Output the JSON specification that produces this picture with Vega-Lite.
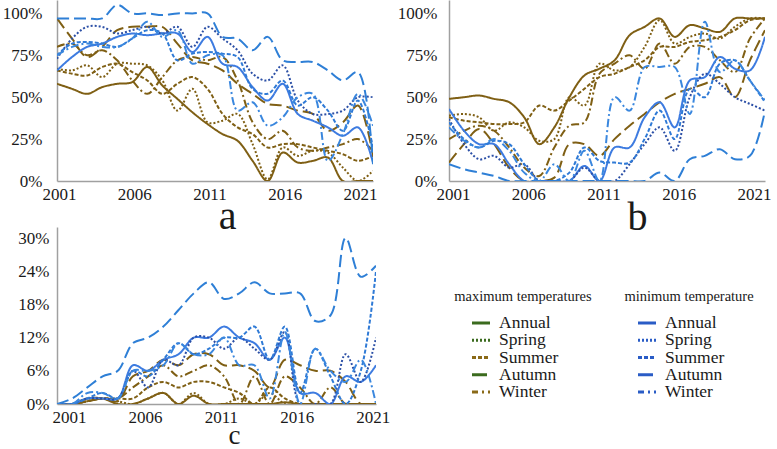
{
"$schema":"https://vega.github.io/schema/vega-lite/v6.json",
"padding":{"left":2,"top":0,"right":0,"bottom":0},
"config":{"font":"Liberation Serif, Times New Roman, serif","view":{"stroke":null},"axis":{"labelFont":"Liberation Serif, Times New Roman, serif","labelFontSize":17,"labelColor":"#1a1a1a","ticks":false,"grid":false,"domainColor":"#a0a0a0","domainWidth":1.5,"titleFont":"Liberation Serif, Times New Roman, serif","titleFontWeight":"normal","titleColor":"#1a1a1a"},"text":{"font":"Liberation Serif, Times New Roman, serif"}},
"datasets":{
"a":[
{"s":"MA","x":2001,"v":58},{"s":"MA","x":2002,"v":55},{"s":"MA","x":2003,"v":52},{"s":"MA","x":2004,"v":56},{"s":"MA","x":2005,"v":58},{"s":"MA","x":2006,"v":59},{"s":"MA","x":2007,"v":68},{"s":"MA","x":2008,"v":57},{"s":"MA","x":2009,"v":49},{"s":"MA","x":2010,"v":41},{"s":"MA","x":2011,"v":34},{"s":"MA","x":2012,"v":28},{"s":"MA","x":2013,"v":24},{"s":"MA","x":2014,"v":12},{"s":"MA","x":2015,"v":0},{"s":"MA","x":2016,"v":17},{"s":"MA","x":2017,"v":11},{"s":"MA","x":2018,"v":12},{"s":"MA","x":2019,"v":14},{"s":"MA","x":2020,"v":0},{"s":"MA","x":2021,"v":0},{"s":"MA","x":2022,"v":0},
{"s":"MS","x":2001,"v":67},{"s":"MS","x":2002,"v":66},{"s":"MS","x":2003,"v":69},{"s":"MS","x":2004,"v":62},{"s":"MS","x":2005,"v":70},{"s":"MS","x":2006,"v":70},{"s":"MS","x":2007,"v":69},{"s":"MS","x":2008,"v":60},{"s":"MS","x":2009,"v":42},{"s":"MS","x":2010,"v":55},{"s":"MS","x":2011,"v":35},{"s":"MS","x":2012,"v":36},{"s":"MS","x":2013,"v":40},{"s":"MS","x":2014,"v":22},{"s":"MS","x":2015,"v":1},{"s":"MS","x":2016,"v":20},{"s":"MS","x":2017,"v":15},{"s":"MS","x":2018,"v":18},{"s":"MS","x":2019,"v":17},{"s":"MS","x":2020,"v":8},{"s":"MS","x":2021,"v":0},{"s":"MS","x":2022,"v":6},
{"s":"MU","x":2001,"v":66},{"s":"MU","x":2002,"v":64},{"s":"MU","x":2003,"v":63},{"s":"MU","x":2004,"v":68},{"s":"MU","x":2005,"v":70},{"s":"MU","x":2006,"v":65},{"s":"MU","x":2007,"v":60},{"s":"MU","x":2008,"v":52},{"s":"MU","x":2009,"v":58},{"s":"MU","x":2010,"v":62},{"s":"MU","x":2011,"v":55},{"s":"MU","x":2012,"v":40},{"s":"MU","x":2013,"v":32},{"s":"MU","x":2014,"v":28},{"s":"MU","x":2015,"v":20},{"s":"MU","x":2016,"v":22},{"s":"MU","x":2017,"v":22},{"s":"MU","x":2018,"v":20},{"s":"MU","x":2019,"v":18},{"s":"MU","x":2020,"v":16},{"s":"MU","x":2021,"v":12},{"s":"MU","x":2022,"v":15},
{"s":"MT","x":2001,"v":97},{"s":"MT","x":2002,"v":85},{"s":"MT","x":2003,"v":74},{"s":"MT","x":2004,"v":80},{"s":"MT","x":2005,"v":90},{"s":"MT","x":2006,"v":92},{"s":"MT","x":2007,"v":92},{"s":"MT","x":2008,"v":92},{"s":"MT","x":2009,"v":82},{"s":"MT","x":2010,"v":72},{"s":"MT","x":2011,"v":70},{"s":"MT","x":2012,"v":66},{"s":"MT","x":2013,"v":58},{"s":"MT","x":2014,"v":52},{"s":"MT","x":2015,"v":46},{"s":"MT","x":2016,"v":45},{"s":"MT","x":2017,"v":42},{"s":"MT","x":2018,"v":40},{"s":"MT","x":2019,"v":30},{"s":"MT","x":2020,"v":35},{"s":"MT","x":2021,"v":45},{"s":"MT","x":2022,"v":15},
{"s":"MW","x":2001,"v":80},{"s":"MW","x":2002,"v":82},{"s":"MW","x":2003,"v":75},{"s":"MW","x":2004,"v":78},{"s":"MW","x":2005,"v":72},{"s":"MW","x":2006,"v":60},{"s":"MW","x":2007,"v":52},{"s":"MW","x":2008,"v":62},{"s":"MW","x":2009,"v":72},{"s":"MW","x":2010,"v":74},{"s":"MW","x":2011,"v":72},{"s":"MW","x":2012,"v":74},{"s":"MW","x":2013,"v":60},{"s":"MW","x":2014,"v":35},{"s":"MW","x":2015,"v":25},{"s":"MW","x":2016,"v":30},{"s":"MW","x":2017,"v":20},{"s":"MW","x":2018,"v":18},{"s":"MW","x":2019,"v":20},{"s":"MW","x":2020,"v":22},{"s":"MW","x":2021,"v":25},{"s":"MW","x":2022,"v":18},
{"s":"nA","x":2001,"v":66},{"s":"nA","x":2002,"v":74},{"s":"nA","x":2003,"v":80},{"s":"nA","x":2004,"v":82},{"s":"nA","x":2005,"v":86},{"s":"nA","x":2006,"v":88},{"s":"nA","x":2007,"v":87},{"s":"nA","x":2008,"v":88},{"s":"nA","x":2009,"v":88},{"s":"nA","x":2010,"v":77},{"s":"nA","x":2011,"v":86},{"s":"nA","x":2012,"v":70},{"s":"nA","x":2013,"v":68},{"s":"nA","x":2014,"v":56},{"s":"nA","x":2015,"v":48},{"s":"nA","x":2016,"v":58},{"s":"nA","x":2017,"v":40},{"s":"nA","x":2018,"v":36},{"s":"nA","x":2019,"v":32},{"s":"nA","x":2020,"v":27},{"s":"nA","x":2021,"v":32},{"s":"nA","x":2022,"v":11},
{"s":"nS","x":2001,"v":73},{"s":"nS","x":2002,"v":85},{"s":"nS","x":2003,"v":92},{"s":"nS","x":2004,"v":92},{"s":"nS","x":2005,"v":88},{"s":"nS","x":2006,"v":90},{"s":"nS","x":2007,"v":92},{"s":"nS","x":2008,"v":88},{"s":"nS","x":2009,"v":92},{"s":"nS","x":2010,"v":80},{"s":"nS","x":2011,"v":92},{"s":"nS","x":2012,"v":85},{"s":"nS","x":2013,"v":78},{"s":"nS","x":2014,"v":64},{"s":"nS","x":2015,"v":60},{"s":"nS","x":2016,"v":69},{"s":"nS","x":2017,"v":48},{"s":"nS","x":2018,"v":40},{"s":"nS","x":2019,"v":40},{"s":"nS","x":2020,"v":42},{"s":"nS","x":2021,"v":50},{"s":"nS","x":2022,"v":50},
{"s":"nU","x":2001,"v":75},{"s":"nU","x":2002,"v":82},{"s":"nU","x":2003,"v":83},{"s":"nU","x":2004,"v":82},{"s":"nU","x":2005,"v":80},{"s":"nU","x":2006,"v":85},{"s":"nU","x":2007,"v":90},{"s":"nU","x":2008,"v":88},{"s":"nU","x":2009,"v":72},{"s":"nU","x":2010,"v":76},{"s":"nU","x":2011,"v":77},{"s":"nU","x":2012,"v":76},{"s":"nU","x":2013,"v":74},{"s":"nU","x":2014,"v":55},{"s":"nU","x":2015,"v":52},{"s":"nU","x":2016,"v":60},{"s":"nU","x":2017,"v":45},{"s":"nU","x":2018,"v":50},{"s":"nU","x":2019,"v":42},{"s":"nU","x":2020,"v":30},{"s":"nU","x":2021,"v":48},{"s":"nU","x":2022,"v":20},
{"s":"nT","x":2001,"v":97},{"s":"nT","x":2002,"v":97},{"s":"nT","x":2003,"v":97},{"s":"nT","x":2004,"v":97},{"s":"nT","x":2005,"v":105},{"s":"nT","x":2006,"v":100},{"s":"nT","x":2007,"v":100},{"s":"nT","x":2008,"v":99},{"s":"nT","x":2009,"v":100},{"s":"nT","x":2010,"v":100},{"s":"nT","x":2011,"v":100},{"s":"nT","x":2012,"v":86},{"s":"nT","x":2013,"v":85},{"s":"nT","x":2014,"v":78},{"s":"nT","x":2015,"v":86},{"s":"nT","x":2016,"v":72},{"s":"nT","x":2017,"v":71},{"s":"nT","x":2018,"v":71},{"s":"nT","x":2019,"v":66},{"s":"nT","x":2020,"v":60},{"s":"nT","x":2021,"v":65},{"s":"nT","x":2022,"v":10},
{"s":"nW","x":2001,"v":75},{"s":"nW","x":2002,"v":80},{"s":"nW","x":2003,"v":82},{"s":"nW","x":2004,"v":80},{"s":"nW","x":2005,"v":80},{"s":"nW","x":2006,"v":85},{"s":"nW","x":2007,"v":95},{"s":"nW","x":2008,"v":86},{"s":"nW","x":2009,"v":90},{"s":"nW","x":2010,"v":70},{"s":"nW","x":2011,"v":75},{"s":"nW","x":2012,"v":75},{"s":"nW","x":2013,"v":42},{"s":"nW","x":2014,"v":47},{"s":"nW","x":2015,"v":33},{"s":"nW","x":2016,"v":38},{"s":"nW","x":2017,"v":50},{"s":"nW","x":2018,"v":52},{"s":"nW","x":2019,"v":12},{"s":"nW","x":2020,"v":28},{"s":"nW","x":2021,"v":52},{"s":"nW","x":2022,"v":33}
],
"b":[
{"s":"MA","x":2001,"v":49},{"s":"MA","x":2002,"v":50},{"s":"MA","x":2003,"v":51},{"s":"MA","x":2004,"v":49},{"s":"MA","x":2005,"v":47},{"s":"MA","x":2006,"v":38},{"s":"MA","x":2007,"v":22},{"s":"MA","x":2008,"v":32},{"s":"MA","x":2009,"v":50},{"s":"MA","x":2010,"v":63},{"s":"MA","x":2011,"v":67},{"s":"MA","x":2012,"v":72},{"s":"MA","x":2013,"v":87},{"s":"MA","x":2014,"v":92},{"s":"MA","x":2015,"v":97},{"s":"MA","x":2016,"v":86},{"s":"MA","x":2017,"v":93},{"s":"MA","x":2018,"v":91},{"s":"MA","x":2019,"v":89},{"s":"MA","x":2020,"v":97},{"s":"MA","x":2021,"v":97},{"s":"MA","x":2022,"v":97},
{"s":"MS","x":2001,"v":39},{"s":"MS","x":2002,"v":40},{"s":"MS","x":2003,"v":38},{"s":"MS","x":2004,"v":30},{"s":"MS","x":2005,"v":35},{"s":"MS","x":2006,"v":32},{"s":"MS","x":2007,"v":24},{"s":"MS","x":2008,"v":25},{"s":"MS","x":2009,"v":50},{"s":"MS","x":2010,"v":45},{"s":"MS","x":2011,"v":70},{"s":"MS","x":2012,"v":66},{"s":"MS","x":2013,"v":68},{"s":"MS","x":2014,"v":80},{"s":"MS","x":2015,"v":96},{"s":"MS","x":2016,"v":82},{"s":"MS","x":2017,"v":86},{"s":"MS","x":2018,"v":88},{"s":"MS","x":2019,"v":85},{"s":"MS","x":2020,"v":92},{"s":"MS","x":2021,"v":97},{"s":"MS","x":2022,"v":97},
{"s":"MU","x":2001,"v":38},{"s":"MU","x":2002,"v":36},{"s":"MU","x":2003,"v":35},{"s":"MU","x":2004,"v":34},{"s":"MU","x":2005,"v":34},{"s":"MU","x":2006,"v":35},{"s":"MU","x":2007,"v":45},{"s":"MU","x":2008,"v":42},{"s":"MU","x":2009,"v":48},{"s":"MU","x":2010,"v":55},{"s":"MU","x":2011,"v":62},{"s":"MU","x":2012,"v":64},{"s":"MU","x":2013,"v":68},{"s":"MU","x":2014,"v":72},{"s":"MU","x":2015,"v":80},{"s":"MU","x":2016,"v":80},{"s":"MU","x":2017,"v":83},{"s":"MU","x":2018,"v":84},{"s":"MU","x":2019,"v":86},{"s":"MU","x":2020,"v":90},{"s":"MU","x":2021,"v":96},{"s":"MU","x":2022,"v":97},
{"s":"MT","x":2001,"v":11},{"s":"MT","x":2002,"v":22},{"s":"MT","x":2003,"v":31},{"s":"MT","x":2004,"v":22},{"s":"MT","x":2005,"v":8},{"s":"MT","x":2006,"v":0},{"s":"MT","x":2007,"v":0},{"s":"MT","x":2008,"v":2},{"s":"MT","x":2009,"v":22},{"s":"MT","x":2010,"v":22},{"s":"MT","x":2011,"v":15},{"s":"MT","x":2012,"v":25},{"s":"MT","x":2013,"v":33},{"s":"MT","x":2014,"v":40},{"s":"MT","x":2015,"v":47},{"s":"MT","x":2016,"v":52},{"s":"MT","x":2017,"v":55},{"s":"MT","x":2018,"v":58},{"s":"MT","x":2019,"v":62},{"s":"MT","x":2020,"v":50},{"s":"MT","x":2021,"v":72},{"s":"MT","x":2022,"v":90},
{"s":"MW","x":2001,"v":25},{"s":"MW","x":2002,"v":30},{"s":"MW","x":2003,"v":33},{"s":"MW","x":2004,"v":30},{"s":"MW","x":2005,"v":20},{"s":"MW","x":2006,"v":8},{"s":"MW","x":2007,"v":3},{"s":"MW","x":2008,"v":20},{"s":"MW","x":2009,"v":33},{"s":"MW","x":2010,"v":35},{"s":"MW","x":2011,"v":64},{"s":"MW","x":2012,"v":70},{"s":"MW","x":2013,"v":75},{"s":"MW","x":2014,"v":67},{"s":"MW","x":2015,"v":82},{"s":"MW","x":2016,"v":70},{"s":"MW","x":2017,"v":80},{"s":"MW","x":2018,"v":80},{"s":"MW","x":2019,"v":72},{"s":"MW","x":2020,"v":65},{"s":"MW","x":2021,"v":85},{"s":"MW","x":2022,"v":97},
{"s":"nA","x":2001,"v":43},{"s":"nA","x":2002,"v":30},{"s":"nA","x":2003,"v":22},{"s":"nA","x":2004,"v":22},{"s":"nA","x":2005,"v":10},{"s":"nA","x":2006,"v":0},{"s":"nA","x":2007,"v":0},{"s":"nA","x":2008,"v":0},{"s":"nA","x":2009,"v":0},{"s":"nA","x":2010,"v":9},{"s":"nA","x":2011,"v":0},{"s":"nA","x":2012,"v":20},{"s":"nA","x":2013,"v":20},{"s":"nA","x":2014,"v":38},{"s":"nA","x":2015,"v":47},{"s":"nA","x":2016,"v":32},{"s":"nA","x":2017,"v":60},{"s":"nA","x":2018,"v":62},{"s":"nA","x":2019,"v":74},{"s":"nA","x":2020,"v":67},{"s":"nA","x":2021,"v":66},{"s":"nA","x":2022,"v":86},
{"s":"nS","x":2001,"v":37},{"s":"nS","x":2002,"v":22},{"s":"nS","x":2003,"v":13},{"s":"nS","x":2004,"v":15},{"s":"nS","x":2005,"v":8},{"s":"nS","x":2006,"v":10},{"s":"nS","x":2007,"v":0},{"s":"nS","x":2008,"v":0},{"s":"nS","x":2009,"v":0},{"s":"nS","x":2010,"v":8},{"s":"nS","x":2011,"v":0},{"s":"nS","x":2012,"v":0},{"s":"nS","x":2013,"v":10},{"s":"nS","x":2014,"v":22},{"s":"nS","x":2015,"v":32},{"s":"nS","x":2016,"v":18},{"s":"nS","x":2017,"v":50},{"s":"nS","x":2018,"v":64},{"s":"nS","x":2019,"v":58},{"s":"nS","x":2020,"v":50},{"s":"nS","x":2021,"v":46},{"s":"nS","x":2022,"v":42},
{"s":"nU","x":2001,"v":35},{"s":"nU","x":2002,"v":25},{"s":"nU","x":2003,"v":20},{"s":"nU","x":2004,"v":24},{"s":"nU","x":2005,"v":22},{"s":"nU","x":2006,"v":10},{"s":"nU","x":2007,"v":0},{"s":"nU","x":2008,"v":0},{"s":"nU","x":2009,"v":5},{"s":"nU","x":2010,"v":20},{"s":"nU","x":2011,"v":12},{"s":"nU","x":2012,"v":11},{"s":"nU","x":2013,"v":11},{"s":"nU","x":2014,"v":25},{"s":"nU","x":2015,"v":42},{"s":"nU","x":2016,"v":25},{"s":"nU","x":2017,"v":55},{"s":"nU","x":2018,"v":50},{"s":"nU","x":2019,"v":70},{"s":"nU","x":2020,"v":72},{"s":"nU","x":2021,"v":60},{"s":"nU","x":2022,"v":47},
{"s":"nT","x":2001,"v":10},{"s":"nT","x":2002,"v":7},{"s":"nT","x":2003,"v":5},{"s":"nT","x":2004,"v":3},{"s":"nT","x":2005,"v":0},{"s":"nT","x":2006,"v":0},{"s":"nT","x":2007,"v":0},{"s":"nT","x":2008,"v":0},{"s":"nT","x":2009,"v":0},{"s":"nT","x":2010,"v":0},{"s":"nT","x":2011,"v":0},{"s":"nT","x":2012,"v":0},{"s":"nT","x":2013,"v":0},{"s":"nT","x":2014,"v":0},{"s":"nT","x":2015,"v":5},{"s":"nT","x":2016,"v":0},{"s":"nT","x":2017,"v":13},{"s":"nT","x":2018,"v":15},{"s":"nT","x":2019,"v":19},{"s":"nT","x":2020,"v":13},{"s":"nT","x":2021,"v":15},{"s":"nT","x":2022,"v":42},
{"s":"nW","x":2001,"v":32},{"s":"nW","x":2002,"v":24},{"s":"nW","x":2003,"v":20},{"s":"nW","x":2004,"v":25},{"s":"nW","x":2005,"v":18},{"s":"nW","x":2006,"v":5},{"s":"nW","x":2007,"v":0},{"s":"nW","x":2008,"v":10},{"s":"nW","x":2009,"v":0},{"s":"nW","x":2010,"v":18},{"s":"nW","x":2011,"v":0},{"s":"nW","x":2012,"v":50},{"s":"nW","x":2013,"v":42},{"s":"nW","x":2014,"v":68},{"s":"nW","x":2015,"v":68},{"s":"nW","x":2016,"v":68},{"s":"nW","x":2017,"v":40},{"s":"nW","x":2018,"v":95},{"s":"nW","x":2019,"v":65},{"s":"nW","x":2020,"v":72},{"s":"nW","x":2021,"v":60},{"s":"nW","x":2022,"v":48}
],
"c":[
{"s":"MA","x":2001,"v":0},{"s":"MA","x":2002,"v":0},{"s":"MA","x":2003,"v":1},{"s":"MA","x":2004,"v":1},{"s":"MA","x":2005,"v":0},{"s":"MA","x":2006,"v":0},{"s":"MA","x":2007,"v":1},{"s":"MA","x":2008,"v":2},{"s":"MA","x":2009,"v":0},{"s":"MA","x":2010,"v":1.5},{"s":"MA","x":2011,"v":0},{"s":"MA","x":2012,"v":0},{"s":"MA","x":2013,"v":0},{"s":"MA","x":2014,"v":0},{"s":"MA","x":2015,"v":0},{"s":"MA","x":2016,"v":0.3},{"s":"MA","x":2017,"v":0},{"s":"MA","x":2018,"v":0},{"s":"MA","x":2019,"v":0},{"s":"MA","x":2020,"v":0},{"s":"MA","x":2021,"v":0},{"s":"MA","x":2022,"v":0},
{"s":"MS","x":2001,"v":0},{"s":"MS","x":2002,"v":0},{"s":"MS","x":2003,"v":0.5},{"s":"MS","x":2004,"v":1},{"s":"MS","x":2005,"v":0.5},{"s":"MS","x":2006,"v":0},{"s":"MS","x":2007,"v":1},{"s":"MS","x":2008,"v":2},{"s":"MS","x":2009,"v":0},{"s":"MS","x":2010,"v":2},{"s":"MS","x":2011,"v":0},{"s":"MS","x":2012,"v":0},{"s":"MS","x":2013,"v":1},{"s":"MS","x":2014,"v":0},{"s":"MS","x":2015,"v":2},{"s":"MS","x":2016,"v":0},{"s":"MS","x":2017,"v":0},{"s":"MS","x":2018,"v":0},{"s":"MS","x":2019,"v":0},{"s":"MS","x":2020,"v":0},{"s":"MS","x":2021,"v":0},{"s":"MS","x":2022,"v":0},
{"s":"MU","x":2001,"v":0},{"s":"MU","x":2002,"v":0},{"s":"MU","x":2003,"v":0.5},{"s":"MU","x":2004,"v":1},{"s":"MU","x":2005,"v":1},{"s":"MU","x":2006,"v":1},{"s":"MU","x":2007,"v":3},{"s":"MU","x":2008,"v":4},{"s":"MU","x":2009,"v":3},{"s":"MU","x":2010,"v":4},{"s":"MU","x":2011,"v":4},{"s":"MU","x":2012,"v":3},{"s":"MU","x":2013,"v":2},{"s":"MU","x":2014,"v":0},{"s":"MU","x":2015,"v":3},{"s":"MU","x":2016,"v":1},{"s":"MU","x":2017,"v":0},{"s":"MU","x":2018,"v":0},{"s":"MU","x":2019,"v":0},{"s":"MU","x":2020,"v":0},{"s":"MU","x":2021,"v":0},{"s":"MU","x":2022,"v":0},
{"s":"MT","x":2001,"v":0},{"s":"MT","x":2002,"v":0},{"s":"MT","x":2003,"v":0.5},{"s":"MT","x":2004,"v":1},{"s":"MT","x":2005,"v":0.5},{"s":"MT","x":2006,"v":5},{"s":"MT","x":2007,"v":6},{"s":"MT","x":2008,"v":8},{"s":"MT","x":2009,"v":7},{"s":"MT","x":2010,"v":9},{"s":"MT","x":2011,"v":9},{"s":"MT","x":2012,"v":7},{"s":"MT","x":2013,"v":7},{"s":"MT","x":2014,"v":6},{"s":"MT","x":2015,"v":3},{"s":"MT","x":2016,"v":8},{"s":"MT","x":2017,"v":7},{"s":"MT","x":2018,"v":6},{"s":"MT","x":2019,"v":6},{"s":"MT","x":2020,"v":4},{"s":"MT","x":2021,"v":0},{"s":"MT","x":2022,"v":0},
{"s":"MW","x":2001,"v":0},{"s":"MW","x":2002,"v":0},{"s":"MW","x":2003,"v":0.5},{"s":"MW","x":2004,"v":1},{"s":"MW","x":2005,"v":1},{"s":"MW","x":2006,"v":3},{"s":"MW","x":2007,"v":5},{"s":"MW","x":2008,"v":7},{"s":"MW","x":2009,"v":5},{"s":"MW","x":2010,"v":6},{"s":"MW","x":2011,"v":7},{"s":"MW","x":2012,"v":5},{"s":"MW","x":2013,"v":0},{"s":"MW","x":2014,"v":5},{"s":"MW","x":2015,"v":0},{"s":"MW","x":2016,"v":5},{"s":"MW","x":2017,"v":3},{"s":"MW","x":2018,"v":0},{"s":"MW","x":2019,"v":3},{"s":"MW","x":2020,"v":0},{"s":"MW","x":2021,"v":0},{"s":"MW","x":2022,"v":0},
{"s":"nA","x":2001,"v":0},{"s":"nA","x":2002,"v":0},{"s":"nA","x":2003,"v":1},{"s":"nA","x":2004,"v":1},{"s":"nA","x":2005,"v":1},{"s":"nA","x":2006,"v":7},{"s":"nA","x":2007,"v":6},{"s":"nA","x":2008,"v":8},{"s":"nA","x":2009,"v":9},{"s":"nA","x":2010,"v":12},{"s":"nA","x":2011,"v":12},{"s":"nA","x":2012,"v":14},{"s":"nA","x":2013,"v":12},{"s":"nA","x":2014,"v":11},{"s":"nA","x":2015,"v":8},{"s":"nA","x":2016,"v":12},{"s":"nA","x":2017,"v":2},{"s":"nA","x":2018,"v":2},{"s":"nA","x":2019,"v":0},{"s":"nA","x":2020,"v":5},{"s":"nA","x":2021,"v":4},{"s":"nA","x":2022,"v":7},
{"s":"nS","x":2001,"v":0},{"s":"nS","x":2002,"v":0},{"s":"nS","x":2003,"v":1},{"s":"nS","x":2004,"v":1},{"s":"nS","x":2005,"v":1},{"s":"nS","x":2006,"v":6},{"s":"nS","x":2007,"v":3},{"s":"nS","x":2008,"v":8},{"s":"nS","x":2009,"v":7},{"s":"nS","x":2010,"v":12},{"s":"nS","x":2011,"v":12},{"s":"nS","x":2012,"v":10},{"s":"nS","x":2013,"v":12},{"s":"nS","x":2014,"v":10},{"s":"nS","x":2015,"v":8},{"s":"nS","x":2016,"v":13},{"s":"nS","x":2017,"v":0},{"s":"nS","x":2018,"v":0},{"s":"nS","x":2019,"v":0},{"s":"nS","x":2020,"v":9},{"s":"nS","x":2021,"v":4},{"s":"nS","x":2022,"v":12},
{"s":"nU","x":2001,"v":0},{"s":"nU","x":2002,"v":0},{"s":"nU","x":2003,"v":1},{"s":"nU","x":2004,"v":2},{"s":"nU","x":2005,"v":1},{"s":"nU","x":2006,"v":6},{"s":"nU","x":2007,"v":5},{"s":"nU","x":2008,"v":8},{"s":"nU","x":2009,"v":11},{"s":"nU","x":2010,"v":9},{"s":"nU","x":2011,"v":10},{"s":"nU","x":2012,"v":12},{"s":"nU","x":2013,"v":12},{"s":"nU","x":2014,"v":14},{"s":"nU","x":2015,"v":8},{"s":"nU","x":2016,"v":14},{"s":"nU","x":2017,"v":2},{"s":"nU","x":2018,"v":10},{"s":"nU","x":2019,"v":5},{"s":"nU","x":2020,"v":0},{"s":"nU","x":2021,"v":6},{"s":"nU","x":2022,"v":24},
{"s":"nT","x":2001,"v":0},{"s":"nT","x":2002,"v":1},{"s":"nT","x":2003,"v":3},{"s":"nT","x":2004,"v":5},{"s":"nT","x":2005,"v":6},{"s":"nT","x":2006,"v":11},{"s":"nT","x":2007,"v":12},{"s":"nT","x":2008,"v":14},{"s":"nT","x":2009,"v":17},{"s":"nT","x":2010,"v":20},{"s":"nT","x":2011,"v":22},{"s":"nT","x":2012,"v":19},{"s":"nT","x":2013,"v":20},{"s":"nT","x":2014,"v":22},{"s":"nT","x":2015,"v":20},{"s":"nT","x":2016,"v":20},{"s":"nT","x":2017,"v":20},{"s":"nT","x":2018,"v":15},{"s":"nT","x":2019,"v":16},{"s":"nT","x":2020,"v":30},{"s":"nT","x":2021,"v":23},{"s":"nT","x":2022,"v":25},
{"s":"nW","x":2001,"v":0},{"s":"nW","x":2002,"v":0},{"s":"nW","x":2003,"v":2},{"s":"nW","x":2004,"v":2},{"s":"nW","x":2005,"v":1},{"s":"nW","x":2006,"v":6},{"s":"nW","x":2007,"v":6},{"s":"nW","x":2008,"v":7},{"s":"nW","x":2009,"v":11},{"s":"nW","x":2010,"v":9},{"s":"nW","x":2011,"v":9},{"s":"nW","x":2012,"v":12},{"s":"nW","x":2013,"v":7},{"s":"nW","x":2014,"v":7},{"s":"nW","x":2015,"v":1},{"s":"nW","x":2016,"v":13},{"s":"nW","x":2017,"v":0},{"s":"nW","x":2018,"v":10},{"s":"nW","x":2019,"v":6},{"s":"nW","x":2020,"v":4},{"s":"nW","x":2021,"v":8},{"s":"nW","x":2022,"v":0}
],
"leg":[
{"s":"MA","g":"max","k":1,"t":"Annual"},{"s":"MS","g":"max","k":2,"t":"Spring"},{"s":"MU","g":"max","k":3,"t":"Summer"},{"s":"MT","g":"max","k":4,"t":"Autumn"},{"s":"MW","g":"max","k":5,"t":"Winter"},
{"s":"nA","g":"min","k":1,"t":"Annual"},{"s":"nS","g":"min","k":2,"t":"Spring"},{"s":"nU","g":"min","k":3,"t":"Summer"},{"s":"nT","g":"min","k":4,"t":"Autumn"},{"s":"nW","g":"min","k":5,"t":"Winter"}
],
"legt":[{"g":"max","k":0,"t":"maximum temperatures"},{"g":"min","k":0,"t":"minimum temperature"}]
},
"columns":2,
"bounds":"flush",
"spacing":{"row":46,"column":73},
"resolve":{"scale":{"x":"independent","y":"independent","color":"independent","strokeDash":"independent","strokeWidth":"independent"}},
"concat":[
{"width":316,"height":181,"data":{"name":"a"},
 "mark":{"type":"line","interpolate":"catmull-rom","clip":true},
 "encoding":{
  "x":{"field":"x","type":"quantitative","scale":{"domain":[2001,2022],"nice":false,"zero":false},"axis":{"values":[2001,2006,2011,2016,2021],"format":"d","labelFont":"Liberation Serif, Times New Roman, serif","labelFlush":false,"labelPadding":5,"labelOffset":2,"title":"a","titleFontSize":40,"titleBaseline":"alphabetic","titleY":47,"titleX":170}},
  "y":{"field":"v","type":"quantitative","scale":{"domain":[0,108],"nice":false},"axis":{"values":[0,25,50,75,100],"labelFont":"Liberation Serif, Times New Roman, serif","labelExpr":"datum.value + '%'","labelPadding":15,"title":null}},
  "color":{"field":"s","type":"nominal","scale":{"domain":["MA","MS","MU","MT","MW","nA","nS","nU","nT","nW"],"range":["#7f5f14","#7f5f14","#7f5f14","#7f5f14","#7f5f14","#3d7be0","#2b4fa6","#2f7ad6","#2e7fd6","#3a87de"]},"legend":null},
  "strokeDash":{"field":"s","type":"nominal","scale":{"domain":["MA","MS","MU","MT","MW","nA","nS","nU","nT","nW"],"range":[[1,0],[2,2],[4,2],[12,5],[8,3,2,3],[1,0],[2,2],[4,2],[12,5],[8,3,2,3]]},"legend":null},
  "strokeWidth":{"field":"s","type":"nominal","scale":{"domain":["MA","MS","MU","MT","MW","nA","nS","nU","nT","nW"],"range":[2,2,2,2,2,1.5,1.6,1.8,2,1.8]},"legend":null}
 }},
{"width":316,"height":181,"data":{"name":"b"},
 "mark":{"type":"line","interpolate":"catmull-rom","clip":true},
 "encoding":{
  "x":{"field":"x","type":"quantitative","scale":{"domain":[2001,2022],"nice":false,"zero":false},"axis":{"values":[2001,2006,2011,2016,2021],"format":"d","labelFont":"Liberation Serif, Times New Roman, serif","labelFlush":false,"labelPadding":5,"labelOffset":4,"title":"b","titleFontSize":40,"titleBaseline":"alphabetic","titleY":48,"titleX":188}},
  "y":{"field":"v","type":"quantitative","scale":{"domain":[0,108],"nice":false},"axis":{"values":[0,25,50,75,100],"labelFont":"Liberation Serif, Times New Roman, serif","labelExpr":"datum.value + '%'","labelPadding":12,"title":null}},
  "color":{"field":"s","type":"nominal","scale":{"domain":["MA","MS","MU","MT","MW","nA","nS","nU","nT","nW"],"range":["#7f5f14","#7f5f14","#7f5f14","#7f5f14","#7f5f14","#3d7be0","#2b4fa6","#2f7ad6","#2e7fd6","#3a87de"]},"legend":null},
  "strokeDash":{"field":"s","type":"nominal","scale":{"domain":["MA","MS","MU","MT","MW","nA","nS","nU","nT","nW"],"range":[[1,0],[2,2],[4,2],[12,5],[8,3,2,3],[1,0],[2,2],[4,2],[12,5],[8,3,2,3]]},"legend":null},
  "strokeWidth":{"field":"s","type":"nominal","scale":{"domain":["MA","MS","MU","MT","MW","nA","nS","nU","nT","nW"],"range":[2,2,2,2,2,1.5,1.6,1.8,2,1.8]},"legend":null}
 }},
{"width":319,"height":177,"data":{"name":"c"},
 "mark":{"type":"line","interpolate":"catmull-rom","clip":true},
 "encoding":{
  "x":{"field":"x","type":"quantitative","scale":{"domain":[2001,2022],"nice":false,"zero":false},"axis":{"values":[2001,2006,2011,2016,2021],"format":"d","labelFont":"Liberation Serif, Times New Roman, serif","labelFlush":false,"labelPadding":5,"labelOffset":12,"title":"c","titleFontSize":27,"titleBaseline":"alphabetic","titleY":39,"titleX":177}},
  "y":{"field":"v","type":"quantitative","scale":{"domain":[0,32],"nice":false},"axis":{"values":[0,6,12,18,24,30],"labelFont":"Liberation Serif, Times New Roman, serif","labelExpr":"datum.value + '%'","labelPadding":8,"title":null}},
  "color":{"field":"s","type":"nominal","scale":{"domain":["MA","MS","MU","MT","MW","nA","nS","nU","nT","nW"],"range":["#7f5f14","#7f5f14","#7f5f14","#7f5f14","#7f5f14","#3d7be0","#2b4fa6","#2f7ad6","#2e7fd6","#3a87de"]},"legend":null},
  "strokeDash":{"field":"s","type":"nominal","scale":{"domain":["MA","MS","MU","MT","MW","nA","nS","nU","nT","nW"],"range":[[1,0],[2,2],[4,2],[12,5],[8,3,2,3],[1,0],[2,2],[4,2],[12,5],[8,3,2,3]]},"legend":null},
  "strokeWidth":{"field":"s","type":"nominal","scale":{"domain":["MA","MS","MU","MT","MW","nA","nS","nU","nT","nW"],"range":[2,2,2,2,2,1.5,1.6,1.8,2,1.8]},"legend":null}
 }},
{"width":320,"height":177,
 "layer":[
  {"data":{"name":"leg"},
   "mark":{"type":"rule","strokeWidth":3,"xOffset":-9,"x2Offset":9},
   "encoding":{
    "x":{"field":"g","type":"nominal","scale":{"domain":["max","min"],"range":[-51,281]},"axis":null},
    "x2":{"field":"g"},
    "y":{"field":"k","type":"quantitative","scale":{"domain":[1,5],"range":[96,165]},"axis":null},
    "color":{"field":"s","type":"nominal","scale":{"domain":["MA","MS","MU","MT","MW","nA","nS","nU","nT","nW"],"range":["#3b6b1e","#3b6b1e","#8a6a18","#3b6b1e","#8a6a18","#2a5cc6","#2a5cc6","#2a5cc6","#2a5cc6","#2a5cc6"]},"legend":null},
    "strokeDash":{"field":"s","type":"nominal","scale":{"domain":["MA","MS","MU","MT","MW","nA","nS","nU","nT","nW"],"range":[[1,0],[2,2],[4,2],[15,10],[6,4,2,4],[1,0],[2,2],[4,2],[15,10],[6,4,2,4]]},"legend":null}
   }},
  {"data":{"name":"leg"},
   "mark":{"type":"text","align":"left","baseline":"middle","dx":18,"font":"Liberation Serif, Times New Roman, serif","fontSize":17.5,"color":"#1a1a1a"},
   "encoding":{
    "x":{"field":"g","type":"nominal","scale":{"domain":["max","min"],"range":[-51,281]},"axis":null},
    "y":{"field":"k","type":"quantitative","scale":{"domain":[1,5],"range":[96,165]},"axis":null},
    "text":{"field":"t"}
   }},
  {"data":{"name":"legt"},
   "mark":{"type":"text","align":"center","baseline":"middle","dx":42,"dy":-9,"font":"Liberation Serif, Times New Roman, serif","fontSize":14.5,"color":"#1a1a1a"},
   "encoding":{
    "x":{"field":"g","type":"nominal","scale":{"domain":["max","min"],"range":[-51,281]},"axis":null},
    "y":{"field":"k","type":"quantitative","scale":{"domain":[1,5],"range":[96,165]},"axis":null},
    "text":{"field":"t"}
   }}
 ]}
]
}
